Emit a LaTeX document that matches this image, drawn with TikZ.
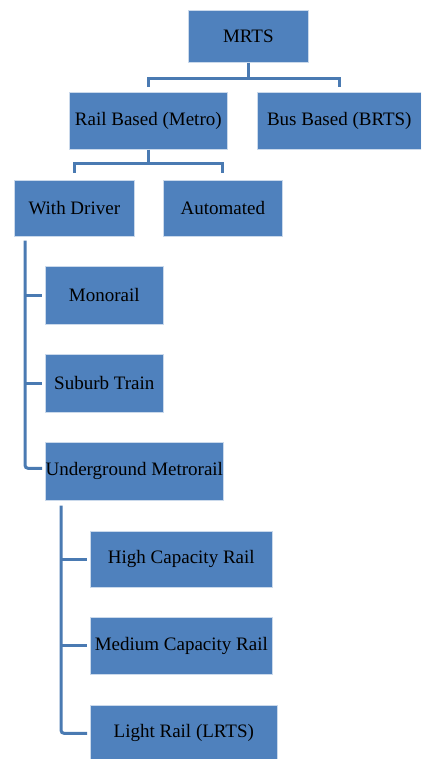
\documentclass[tikz,border=0pt]{standalone}
\usepackage{fontspec}
\setmainfont{Liberation Serif}
\definecolor{boxblue}{HTML}{4F81BD}
\definecolor{linkblue}{HTML}{4A7AB2}
\begin{document}
\begin{tikzpicture}[x=1pt,y=-1pt,
  box/.style={draw=white!70!boxblue, line width=0.6pt, fill=boxblue, inner sep=0pt,
    font=\fontsize{19}{22}\selectfont, text=black, anchor=north west},
  conn/.style={draw=linkblue, line width=3pt}]
\useasboundingbox (0,0) rectangle (421,759);
\clip (0,0) rectangle (421,759);
\node[box, minimum width=120pt, minimum height=52pt] (mrts) at (188,10) {MRTS};
\node[box, minimum width=158pt, minimum height=57pt] (rail) at (69,92) {Rail Based (Metro)};
\node[box, minimum width=164pt, minimum height=57pt] (bus) at (257,92) {Bus Based (BRTS)};
\node[box, minimum width=120pt, minimum height=56pt] (driver) at (14,180) {With Driver};
\node[box, minimum width=119pt, minimum height=56pt] (auto) at (163,180) {Automated};
\node[box, minimum width=118pt, minimum height=58pt] (mono) at (45,266) {Monorail};
\node[box, minimum width=118pt, minimum height=58pt] (suburb) at (45,354) {Suburb Train};
\node[box, minimum width=178pt, minimum height=58pt] (under) at (45,442) {Underground Metrorail};
\node[box, minimum width=182pt, minimum height=56pt] (high) at (90,531) {High Capacity Rail};
\node[box, minimum width=182pt, minimum height=57pt] (medium) at (90,617) {Medium Capacity Rail};
\node[box, minimum width=187pt, minimum height=56pt] (light) at (90,705) {Light Rail (LRTS)};
% MRTS children
\draw[conn] (mrts.south) -- ([yshift=-16pt]mrts.south);
\draw[conn] ([yshift=5pt]rail.north) |- ([yshift=-16pt]mrts.south) -| ([yshift=5pt]bus.north);
% Rail children
\draw[conn] (rail.south) -- ([yshift=-14pt]rail.south);
\draw[conn] ([yshift=7pt]driver.north) |- ([yshift=-14pt]rail.south) -| ([yshift=7pt]auto.north);
% With Driver children
\coordinate (d0) at ([xshift=11pt,yshift=-4pt]driver.south west);
\draw[conn, rounded corners=3pt] (d0) |- ([xshift=-3pt,yshift=3pt]under.west);
\draw[conn] (d0 |- mono.west) -- ([xshift=-3pt]mono.west);
\draw[conn] (d0 |- suburb.west) -- ([xshift=-3pt]suburb.west);
% Underground children
\coordinate (u0) at ([xshift=16pt,yshift=-5pt]under.south west);
\draw[conn, rounded corners=3pt] (u0) |- ([xshift=-3pt]light.west);
\draw[conn] (u0 |- high.west) -- ([xshift=-3pt]high.west);
\draw[conn] (u0 |- medium.west) -- ([xshift=-3pt]medium.west);
\end{tikzpicture}
\end{document}
